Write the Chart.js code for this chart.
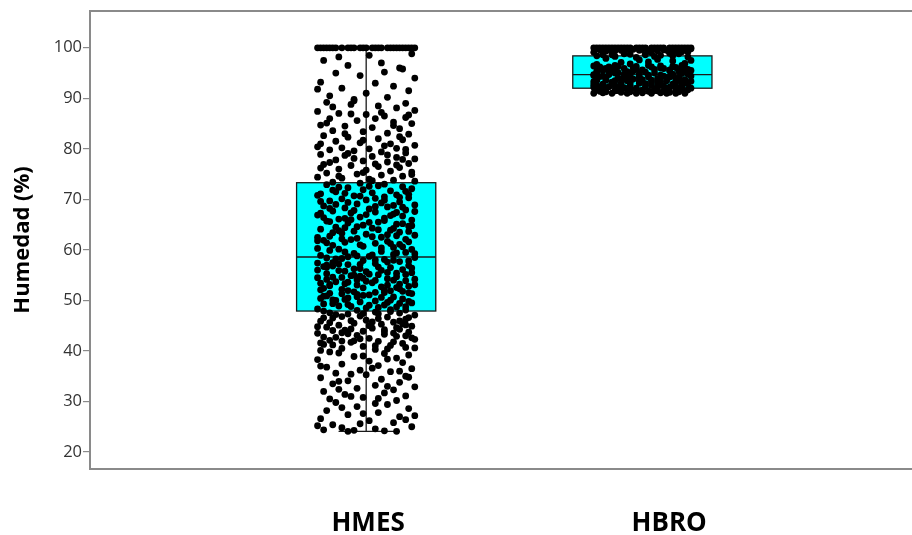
<!DOCTYPE html>
<html>
<head>
<meta charset="utf-8">
<script src="https://cdn.jsdelivr.net/npm/chart.js@4.4.1/dist/chart.umd.min.js"></script>
<style>
  html, body { margin: 0; padding: 0; background: #fff; }
  #wrap { width: 912px; height: 535px; }
</style>
</head>
<body>
<div id="wrap"><canvas id="chart"></canvas></div>
<script>
// ── Data ──────────────────────────────────────────────────────
const categories = ['HMES', 'HBRO'];
const catPos     = [1, 2];
const q1         = [47.9, 92.0];
const medians    = [58.6, 94.7];
const q3         = [73.3, 98.4];
const whiskLow   = [24.1, 91.0];
const whiskHigh  = [100,  100];
const yTicks     = [20, 30, 40, 50, 60, 70, 80, 90, 100];

// [humedad, jitter] — jitter in hundredths-ish of a category step
const hmesPoints = [
  [100,-16],[100,-15],[100,-14],[100,-13],[100,-12],[100,-11],[100,-10],[100,-8],[100,-6],[100,-5],
  [100,-4],[100,-2],[100,-1],[100,0],[100,2],[100,3],[100,4],[100,5],[100,7],[100,8],
  [100,9],[100,10],[100,11],[100,12],[100,13],[100,14],[100,15],[100,16],
  [97.5,-14],[97,5],[96.5,-6],[95.8,12],[95,-10],[94.5,-2],[94,16],[93.2,-15],[93,3],[92.4,9],
  [92,-8],[91.5,14],[91,0],[90.5,-12],[90.2,7],[89.8,-4],[96,11],[91.8,-16],[98.5,1],[98.8,15],
  [98.2,-9],[95.2,6],
  [89.2,-13],[88.8,-5],[88.5,4],[88.1,10],[87.6,16],[87.4,-16],[87,-9],[86.8,0],[86.5,6],[86.2,13],
  [86,-12],[85.6,-3],[85.3,9],[85,15],[84.7,-15],[84.5,-7],[84.2,2],[84,11],[83.6,-11],[83.4,-1],
  [83.1,7],[82.9,14],[82.6,-14],[82.3,-6],[82,4],[81.8,12],[81.5,-10],[81.2,-2],[81,8],[80.7,16],
  [80.4,-16],[80.2,-8],[80,1],[80.1,10],[85.1,-13],[87.2,5],[89.5,-4],[89,13],[88.3,-11],[86,3],
  [83,-7],[82.4,11],[81.7,-1],[80.6,6],[86.9,-5],[84.6,9],[81,-15],[86.7,14],
  [79.8,-12],[79.6,-4],[79.4,5],[79.2,13],[78.9,-15],[78.7,-7],[78.5,2],[78.3,10],[78,16],[77.8,-10],
  [77.6,-1],[77.4,7],[77.1,14],[76.9,-14],[76.7,-5],[76.5,4],[76.3,11],[76,-9],[75.8,0],[75.6,8],
  [75.4,15],[75.2,-13],[75,-3],[74.8,5],[74.6,12],[74.4,-16],[74.2,-8],[74,1],[73.8,9],[73.6,16],
  [73.4,-11],[73.2,-2],[73,6],[79.9,13],[79.1,-6],[77,3],[77.3,-12],[76.8,10],[75.3,-1],[74.9,15],
  [76.2,-15],[78.8,7],[74.6,-9],[73.7,2],[77.9,12],[78.1,-4],
  [72.9,-13],[72.7,4],[72.5,12],[72.3,-6],[72.1,15],[71.9,-1],[71.7,8],[71.5,-10],[71.3,2],[71.1,-15],
  [70.9,10],[70.7,-4],[70.5,6],[70.3,14],[70.1,-8],[69.9,0],[69.7,-12],[69.5,11],[69.3,5],[69.1,-3],
  [68.9,16],[68.7,-14],[68.5,7],[68.3,-7],[68.1,1],[67.9,13],[67.7,-11],[67.5,3],[67.3,-5],[67.1,9],
  [66.9,-16],[66.7,12],[66.5,-2],[66.3,6],[66.1,-9],[65.9,15],[65.7,-13],[65.5,4],[65.3,-6],[65.1,10],
  [64.9,-1],[64.7,14],[64.5,-10],[64.3,2],[64.1,-15],[63.9,8],[63.7,-4],[63.5,11],[63.3,-8],[63.1,0],
  [62.9,16],[62.7,-12],[62.5,5],[62.3,-3],[62.1,13],[61.9,-14],[61.7,7],[61.5,-7],[61.3,3],[61.1,11],
  [60.9,-11],[60.7,-1],[60.5,9],[60.3,-16],[60.1,15],
  [72.4,-9],[71.6,13],[70.8,-16],[70.2,3],[69.4,-6],[68.8,9],[68.2,-12],[67.6,16],[67,0],[66.4,-14],
  [65.8,6],[65.2,12],[64.6,-3],[64,4],[63.4,-11],[62.8,10],[62.2,-8],[61.6,14],[61,-2],[60.4,5],
  [72.6,1],[71.2,-7],[70.4,11],[69.6,-15],[68.6,3],[67.8,-4],[66.8,8],[65.6,-12],[64.8,15],[63.8,-9],
  [62.6,2],[61.8,-16],[60.6,12],[66,-5],[63,7],[69,-10],[71,14],[64.4,-7],[67.4,10],[61.4,-13],
  [70.65,-2],[68.45,12],[66.25,-7],[64.25,9],[62.45,-16],[69.85,6],[67.25,-15],[65.45,1],[63.65,14],[71.85,-11],
  [59.9,-12],[59.7,5],[59.5,13],[59.3,-4],[59.1,9],[58.9,-15],[58.7,1],[58.5,16],[58.3,-8],[58.1,6],
  [57.9,-1],[57.7,11],[57.5,-11],[57.3,3],[57.1,-6],[56.9,14],[56.7,-14],[56.5,8],[56.3,-2],[56.1,12],
  [55.9,-9],[55.7,0],[55.5,15],[55.3,-13],[55.1,4],[54.9,-5],[54.7,10],[54.5,-16],[54.3,7],[54.1,-3],
  [53.9,13],[53.7,-10],[53.5,2],[53.3,-7],[53.1,16],[52.9,-12],[52.7,5],[52.5,-1],[52.3,11],[52.1,-15],
  [51.9,8],[51.7,-4],[51.5,14],[51.3,-8],[51.1,1],[50.9,-13],[50.7,9],[50.5,-6],[50.3,12],[50.1,-11],
  [49.9,3],[49.7,-2],[49.5,15],[49.3,-14],[49.1,6],[48.9,-9],[48.7,10],[48.5,0],[48.3,-16],[48.1,13],
  [59.6,-7],[59,2],[58.4,-13],[57.8,14],[57.2,-9],[56.6,4],[56,-16],[55.4,10],[54.8,-2],[54.2,16],
  [53.6,-6],[53,7],[52.4,-14],[51.8,12],[51.2,-3],[50.6,5],[50,-10],[49.4,11],[48.8,-5],[48.2,8],
  [59.4,10],[58.8,-3],[58.2,-10],[57.6,7],[57,-13],[56.4,15],[55.8,-7],[55.2,1],[54.6,-11],[54,9],
  [53.4,-15],[52.8,14],[52.2,-8],[51.6,3],[51,-1],[50.4,-15],[49.8,14],[49.2,-6],[48.6,4],[56.8,-11],
  [55,-4],[53.2,11],[51.4,-12],[49.6,7],[58,3],[54.4,-1],[52,6],[50.2,-7],[57.4,-16],[53.8,0],
  [62.05,-5],[61.25,8],[60.15,-9],[59.25,16],[58.65,-6],[57.95,9],[57.15,-2],[56.55,-13],[55.95,5],[55.15,13],
  [54.55,-8],[53.95,3],[53.15,-12],[52.55,10],[51.95,-6],[51.35,15],[50.75,-3],[50.05,8],[49.35,-11],[48.75,13],
  [56.25,-4],[55.55,7],[54.15,-13],[53.05,-3],[51.55,6],[50.85,-14],[49.05,1],
  [47.9,-14],[47.7,3],[47.5,11],[47.3,-6],[47.1,16],[46.9,-2],[46.7,7],[46.5,-11],[46.3,13],[46.1,0],
  [45.9,-15],[45.7,9],[45.5,-4],[45.3,5],[45.1,-9],[44.9,15],[44.7,-13],[44.5,2],[44.3,11],[44.1,-7],
  [43.9,-1],[43.7,14],[43.5,-16],[43.3,6],[43.1,-3],[42.9,10],[42.7,-10],[42.5,1],[42.3,16],[42.1,-12],
  [41.9,4],[41.7,-5],[41.5,12],[41.3,-14],[41.1,8],[40.9,-1],[40.7,13],[40.5,-8],[40.3,3],[40.1,-15],
  [47.8,8],[47.2,-10],[46.6,14],[46,-5],[45.4,12],[44.8,-16],[44.2,6],[43.6,-8],[43,13],[42.4,-2],
  [41.8,9],[41.2,-11],[40.6,16],[47.4,-1],[46.4,4],[45.6,-12],[44.6,10],[43.4,-6],[42.6,15],[41.6,-15],
  [40.4,7],[46.8,-8],[45,1],[43.8,6],[42,-4],
  [48.05,-3],[47.35,4],[46.55,-14],[45.75,2],[45.15,13],[44.35,-5],[43.55,9],[42.75,-14],[41.95,-8],[41.05,3],
  [47.55,-12],[45.95,11],[44.05,-11],
  [39.8,-12],[39.5,6],[39.2,14],[38.9,-4],[38.6,10],[38.3,-16],[38,1],[37.7,12],[37.4,-8],[37.1,4],
  [36.8,-13],[36.5,15],[36.2,-2],[35.9,8],[35.6,-10],[35.3,0],[35,13],[34.7,-15],[34.4,5],[34.1,-6],
  [33.8,11],[33.5,-11],[33.2,3],[32.9,16],[32.6,-3],[32.3,9],[32,-14],[31.7,6],[31.4,-7],[31.1,13],
  [30.8,-1],[30.5,-12],[30.2,10],[39,-1],[37,-15],[36,11],[34,-9],[33,7],[31,-5],[38.4,7],
  [35.4,-5],[32.4,-9],[30.6,4],[36.6,2],[34.8,14],[39.6,-9],
  [29.8,-10],[29.4,7],[29,-3],[28.6,14],[28.2,-13],[27.8,4],[27.4,-6],[27,11],[26.6,-15],[26.2,1],
  [25.8,9],[25.4,-11],[25,15],[24.8,-8],[24.6,3],[24.4,-14],[24.3,-4],[24.2,6],[24.1,10],[24.1,-6],
  [28.8,-8],[27.6,-1],[26.4,13],[25.6,-2],[29.6,3],[27.2,16],[25.2,-16]
];

const hbroPoints = [
  [100,-16],[100,-15],[100,-14],[100,-13],[100,-12],[100,-11],[100,-10],[100,-9],[100,-8],[100,-7],
  [100,-6],[100,-5],[100,-4],[100,-2],[100,-1],[100,0],[100,1],[100,3],[100,4],[100,5],
  [100,6],[100,7],[100,9],[100,10],[100,11],[100,12],[100,13],[100,14],[100,15],[100,16],
  [99.6,-14],[99.4,-9],[99.7,-3],[99.3,2],[99.5,8],[99.2,13],[99.8,16],[99.1,-16],[99.4,5],[99.6,11],
  [99,-6],[99.3,-12],[99.7,0],[99.1,9],[99.5,-1],[99.2,15],
  [99.9,-11],[99.8,4],[99.5,-7],[99.4,12],[99,3],[98.8,-6],
  [99.8,-13],[99.6,7],[99.4,-4],[99.2,-10],[99,10],[99.9,1],[99.7,14],[98.6,-13],[98.4,10],
  [98.9,-13],[98.7,-4],[98.5,6],[98.8,12],[98.3,-9],[98.6,1],[98.2,15],[98.4,-15],[98.9,9],[98.1,-2],
  [98.6,-10],[98.3,4],
  [97.9,-12],[97.6,-1],[97.4,10],[97.1,-7],[96.9,14],[97.7,5],[96.7,-15],[97.2,2],[96.8,-4],[97.5,16],
  [96.4,-16],[96.3,-8],[96.2,3],[96.1,11],[96,-3],[95.9,7],[95.8,-13],[95.7,15],[95.6,0],[95.5,-10],
  [95.4,9],[95.3,-5],[95.2,13],[95.1,-15],[95,4],[94.9,-1],[94.8,10],[94.7,-11],[94.6,6],[94.5,-6],
  [94.4,16],[94.3,-14],[94.2,2],[94.1,12],[94,-8],[93.9,5],[93.8,-3],[93.7,14],[93.6,-12],[93.5,8],
  [93.4,-1],[93.3,-16],[93.2,11],[93.1,3],[93,-7],[92.9,15],[92.8,-10],[92.7,6],[92.6,-4],[92.5,13],
  [92.4,-13],[92.3,1],[92.2,9],[92.1,-6],[92,16],[91.9,-15],[91.8,4],[91.7,-2],[91.6,11],[91.5,-9],
  [91.4,7],[91.3,-12],[91.2,14],[91.1,0],[91,-5],
  [96.4,6],[96.2,-11],[96,14],[95.8,-2],[95.6,9],[95.4,-15],[95.2,1],[95,-9],[94.8,15],[94.6,-4],
  [94.4,7],[94.2,-12],[94,12],[93.8,-7],[93.6,3],[93.4,16],[93.2,-10],[93,-1],[92.8,10],[92.6,-15],
  [92.4,5],[92.2,-8],[92,13],[91.8,-4],[91.6,-13],[91.4,2],[91.2,9],[91,-16],[95.9,-6],[95.3,12],
  [94.7,-16],[94.1,8],[93.5,-5],[92.9,1],[92.3,-11],[91.7,15],[91.1,6],[96.3,10],[95.1,-8],[94.3,-1],
  [93.3,5],[92.1,-14],[91.3,12],[91,3],[91,-10],[91,8],[91,-2],[91,14],[91.1,-13],[92.7,-16],
  [93.9,-12],[94.9,13],[95.7,4],
  [95.5,-13],[94.5,10],[93.7,0],[92.5,-9],[91.5,5],[91.2,-7],[93.1,13],[94,-15],[95.9,-12],[92,-2],
  [91.9,8],[93.9,-5],
  [96.5,-9],[96.5,2],[96.5,13],[96.2,-14],[96,6],[95.8,-9],[95.6,12],[95.4,-3],[95.2,-11],[95,15],
  [94.8,-6],[94.6,2],[94.4,-13],[94.2,9],[94,-1],[93.8,11],[93.6,-15],[93.4,6],[93.2,-4],[93,14],
  [92.8,-13],[92.6,3],[92.4,11],[92.2,-16],[92,-6],[91.8,12],[91.6,0],[91.4,-14],[91.2,3],[91,11],
  [91.3,-4],[91.6,-8],[92.5,7],[93.5,-9],[94.5,-16],[95.5,16],[96.3,-2]
];

// ── Styling constants ─────────────────────────────────────────
const JITTER    = 0.011;   // jitter unit -> x-axis units
const BOX_HALF  = 0.252;
const CAP_HALF  = 0.1;
const BOX_FILL  = '#00ffff';
const FRAME_CLR = '#8a8a8a';

const toXY = (pts, i) => pts.map(([v, j]) => ({ x: catPos[i] + j * JITTER, y: v }));

// ── Plugins: frame + box/whiskers ─────────────────────────────
const framePlugin = {
  id: 'frame',
  beforeDatasetsDraw(chart) {
    const { ctx, chartArea: a } = chart;
    ctx.save();
    ctx.strokeStyle = FRAME_CLR;
    ctx.lineWidth = 2;
    ctx.beginPath();
    ctx.moveTo(chart.width, a.top);
    ctx.lineTo(a.left, a.top);
    ctx.lineTo(a.left, a.bottom);
    ctx.lineTo(chart.width, a.bottom);
    ctx.stroke();
    ctx.restore();
  },
};

const boxPlugin = {
  id: 'boxes',
  beforeDatasetsDraw(chart) {
    const { ctx, scales: { x, y } } = chart;
    ctx.save();
    ctx.strokeStyle = '#1a1a1a';
    ctx.lineWidth = 1.3;
    categories.forEach((c, i) => {
      const cx = x.getPixelForValue(catPos[i]);
      const l  = x.getPixelForValue(catPos[i] - BOX_HALF);
      const r  = x.getPixelForValue(catPos[i] + BOX_HALF);
      const cl = x.getPixelForValue(catPos[i] - CAP_HALF);
      const cr = x.getPixelForValue(catPos[i] + CAP_HALF);
      const yq1 = y.getPixelForValue(q1[i]);
      const yq3 = y.getPixelForValue(q3[i]);
      const ym  = y.getPixelForValue(medians[i]);
      const ylo = y.getPixelForValue(whiskLow[i]);
      const yhi = y.getPixelForValue(whiskHigh[i]);

      // whiskers + caps
      ctx.beginPath();
      ctx.moveTo(cx, yq3); ctx.lineTo(cx, yhi);
      ctx.moveTo(cx, yq1); ctx.lineTo(cx, ylo);
      ctx.moveTo(cl, yhi); ctx.lineTo(cr, yhi);
      ctx.moveTo(cl, ylo); ctx.lineTo(cr, ylo);
      ctx.stroke();

      // box
      ctx.fillStyle = BOX_FILL;
      ctx.fillRect(l, yq3, r - l, yq1 - yq3);
      ctx.strokeRect(l, yq3, r - l, yq1 - yq3);

      // median
      ctx.beginPath();
      ctx.moveTo(l, ym); ctx.lineTo(r, ym);
      ctx.stroke();
    });
    ctx.restore();
  },
};

// ── Chart ─────────────────────────────────────────────────────
const pointStyle = {
  pointRadius: 3.4,
  pointHoverRadius: 3.4,
  pointBackgroundColor: '#000',
  pointBorderWidth: 0,
  showLine: false,
};

new Chart(document.getElementById('chart').getContext('2d'), {
  type: 'scatter',
  data: {
    datasets: [
      { label: categories[0], data: toXY(hmesPoints, 0), ...pointStyle },
      { label: categories[1], data: toXY(hbroPoints, 1), ...pointStyle },
    ],
  },
  options: {
    responsive: true,
    maintainAspectRatio: false,
    animation: false,
    layout: { padding: { top: 10, right: 0, bottom: 0, left: 0 } },
    plugins: {
      legend:  { display: false },
      tooltip: { enabled: false },
    },
    scales: {
      x: {
        type: 'linear',
        min: 0,
        max: 2.964,
        grid:   { display: false },
        border: { display: false },
        afterBuildTicks: (s) => { s.ticks = [{ value: catPos[0] + 0.007 }, { value: catPos[1] + 0.097 }]; },
        afterFit: (s) => { s.height = 66; },
        ticks: {
          padding: 31,
          color: '#000',
          font: { family: 'Open Sans', size: 26, weight: 'bold' },
          callback: (v, idx) => categories[idx],
        },
      },
      y: {
        min: 16.64,
        max: 107.3,
        afterBuildTicks: (s) => { s.ticks = yTicks.map(v => ({ value: v })); },
        afterFit: (s) => { s.width = 90; },
        grid:   { drawOnChartArea: false, color: FRAME_CLR, tickLength: 7, lineWidth: 1.2 },
        border: { display: false },
        ticks: {
          padding: 1,
          color: '#333',
          font: { family: 'Open Sans', size: 16.5 },
        },
        title: {
          display: true,
          text: 'Humedad (%)',
          color: '#000',
          padding: { top: 10, bottom: 0 },
          font: { family: 'Open Sans', size: 22, weight: 'bold' },
        },
      },
    },
  },
  plugins: [framePlugin, boxPlugin],
});
</script>
</body>
</html>
